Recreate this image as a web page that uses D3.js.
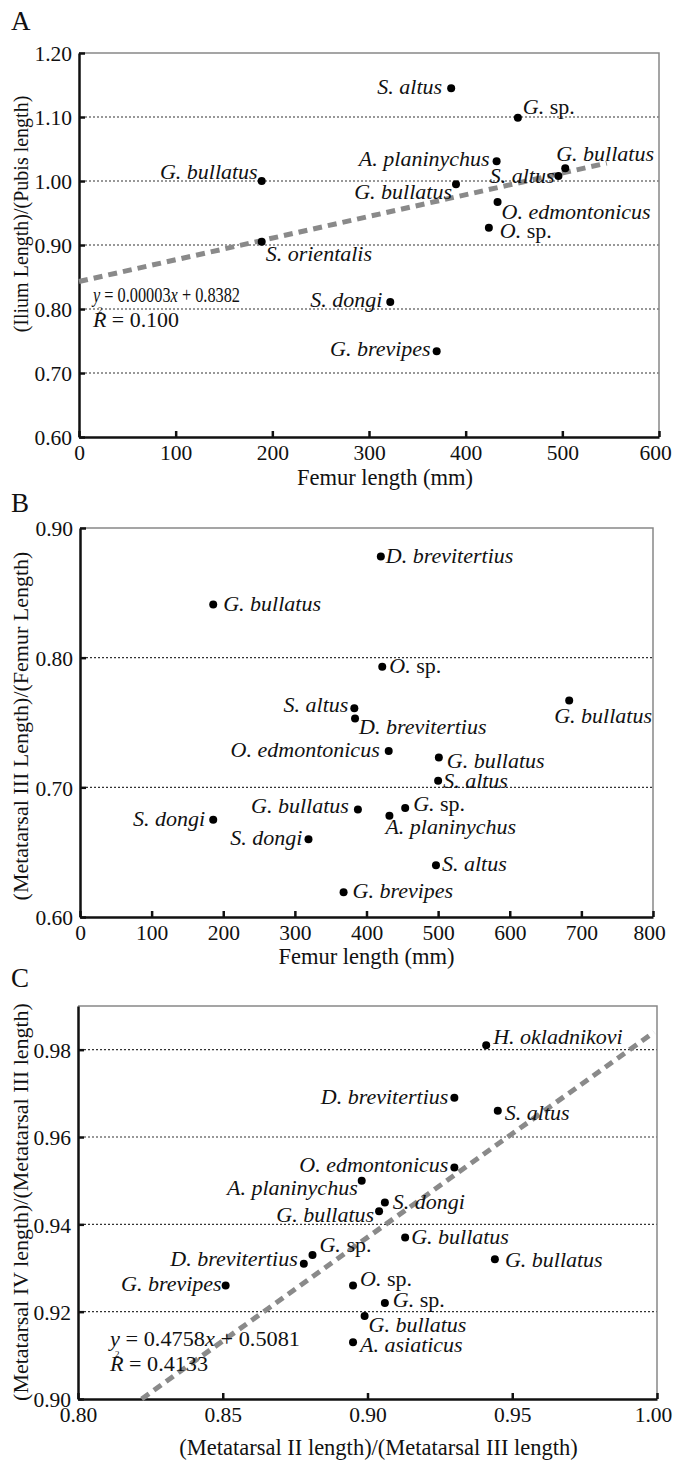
<!DOCTYPE html>
<html>
<head>
<meta charset="utf-8">
<script src="https://cdn.jsdelivr.net/npm/d3@7"></script>
<style>
  body { margin: 0; background: #fff; }
  svg { display: block; font-family: "Liberation Serif", "Times New Roman", serif; }
  .sp-label { font-size: 22px; fill: #111; }
</style>
</head>
<body>
<div id="chart"></div>
<script>
// Panel A: femur length vs (ilium length)/(pubis length)
const namesA = ["G. bullatus", "S. orientalis", "S. altus", "G. sp.", "A. planinychus", "G. bullatus",
    "S. altus", "G. bullatus", "O. edmontonicus", "O. sp.", "S. dongi", "G. brevipes"];
const femurA = [189, 189, 385, 454, 432, 390, 496, 503, 433, 424, 322, 370];
const iliumPubisA = [1.000, 0.905, 1.145, 1.099, 1.031, 0.995, 1.008, 1.020, 0.967, 0.927, 0.811, 0.734];
const trendA = [[0, 0.843], [546, 1.028]];
const yTicksA = [0.60, 0.70, 0.80, 0.90, 1.00, 1.10, 1.20];
const xTicksA = [0, 100, 200, 300, 400, 500, 600];

// Panel B: femur length vs (metatarsal III length)/(femur length)
const namesB = ["D. brevitertius", "G. bullatus", "O. sp.", "S. altus", "D. brevitertius", "G. bullatus",
    "O. edmontonicus", "G. bullatus", "S. altus", "G. bullatus", "G. sp.", "A. planinychus",
    "S. dongi", "S. dongi", "S. altus", "G. brevipes"];
const femurB = [420, 186, 422, 383, 384, 683, 431, 501, 500, 388, 454, 432, 186, 319, 497, 368];
const mt3FemurB = [0.878, 0.841, 0.793, 0.761, 0.753, 0.767, 0.728, 0.723, 0.705, 0.683, 0.684, 0.678,
    0.675, 0.660, 0.640, 0.619];
const yTicksB = [0.60, 0.70, 0.80, 0.90];
const xTicksB = [0, 100, 200, 300, 400, 500, 600, 700, 800];

// Panel C: (MT II)/(MT III) vs (MT IV)/(MT III)
const namesC = ["H. okladnikovi", "D. brevitertius", "S. altus", "O. edmontonicus", "A. planinychus", "S. dongi",
    "G. bullatus", "G. sp.", "D. brevitertius", "G. brevipes", "G. bullatus", "G. bullatus",
    "O. sp.", "G. sp.", "G. bullatus", "A. asiaticus"];
const mt2C = [0.941, 0.930, 0.945, 0.930, 0.898, 0.906, 0.904, 0.881, 0.878, 0.851, 0.913, 0.944,
    0.895, 0.906, 0.899, 0.895];
const mt4C = [0.981, 0.969, 0.966, 0.953, 0.950, 0.945, 0.943, 0.933, 0.931, 0.926, 0.937, 0.932,
    0.926, 0.922, 0.919, 0.913];
const trendC = [[0.822, 0.900], [0.999, 0.984]];
const yTicksC = [0.90, 0.92, 0.94, 0.96, 0.98];
const xTicksC = [0.80, 0.85, 0.90, 0.95, 1.00];

// label placement [anchor, dx, dy] per point (layout only)
const placeA = [["end", -4, -2], ["start", 4, 19], ["end", -9, 6], ["start", 5, -4], ["end", -7, 5],
    ["end", -4, 15], ["end", -4, 7], ["start", -9, -7], ["start", 4, 17], ["start", 11, 10],
    ["end", -8, 5], ["end", -6, 5]];
const placeB = [["start", 5, 6], ["start", 10, 6], ["start", 7, 6], ["end", -6, 4], ["start", 4, 15],
    ["start", -15, 23], ["end", -9, 6], ["start", 8, 10], ["start", 5, 7], ["end", -9, 4],
    ["start", 8, 3], ["start", -4, 18], ["end", -8, 6], ["end", -6, 6], ["start", 6, 6], ["start", 9, 6]];
const placeC = [["start", 7, -1], ["end", -6, 6], ["start", 7, 9], ["end", -6, 4], ["end", -4, 14],
    ["start", 8, 6], ["end", -5, 11], ["start", 7, -3], ["end", -6, 2], ["end", -4, 6],
    ["start", 6, 7], ["start", 10, 8], ["start", 7, 1], ["start", 8, 4], ["start", 4, 16], ["start", 7, 10]];

const svg = d3.select("#chart").append("svg")
    .attr("width", 673)
    .attr("height", 1466);

function speciesLabel(g, name, x, y, place) {
    const t = g.append("text")
        .classed("sp-label", true)
        .attr("x", x + place[1])
        .attr("y", y + place[2])
        .attr("text-anchor", place[0]);
    if (name.endsWith(" sp.")) {
        t.append("tspan").attr("font-style", "italic").text(name.slice(0, -4));
        t.append("tspan").text(" sp.");
    } else {
        t.attr("font-style", "italic").text(name);
    }
}

// regression text, squeezed to the width seen in the figure
function equation(x, y, slope, icpt, r2, eqWidth, rWidth) {
    const t = svg.append("text").attr("x", x).attr("y", y).attr("font-size", 21).attr("fill", "#111")
        .attr("textLength", eqWidth).attr("lengthAdjust", "spacingAndGlyphs");
    t.append("tspan").attr("font-style", "italic").text("y");
    t.append("tspan").text(" = " + slope);
    t.append("tspan").attr("font-style", "italic").text("x");
    t.append("tspan").text(" + " + icpt);
    const r = svg.append("text").attr("x", x).attr("y", y + 25).attr("font-size", 21).attr("fill", "#111")
        .attr("textLength", rWidth).attr("lengthAdjust", "spacingAndGlyphs");
    r.append("tspan").attr("font-style", "italic").text("R");
    r.append("tspan").text(" = " + r2);
    svg.append("text").attr("x", x + 5).attr("y", y + 11).attr("font-size", 9).attr("fill", "#111").text("2");
}

function panel(p) {
    const x = d3.scaleLinear().domain(p.xDomain).range([p.left, p.right]);
    const y = d3.scaleLinear().domain(p.yDomain).range([p.bottom, p.top]);
    const g = svg.append("g");

    // panel letter
    svg.append("text")
        .attr("x", 11)
        .attr("y", p.letterY)
        .attr("font-size", 27)
        .attr("fill", "#111")
        .text(p.letter);

    // dotted grid
    g.selectAll(".grid").data(p.grid).enter().append("line")
        .attr("x1", p.left + 6)
        .attr("x2", p.right)
        .attr("y1", d => y(d))
        .attr("y2", d => y(d))
        .attr("stroke", "#333")
        .attr("stroke-width", 1.1)
        .attr("stroke-dasharray", "2,2");

    // thin frame top/right
    g.append("path")
        .attr("d", `M${p.left},${p.top}H${p.right}V${p.bottom}`)
        .attr("fill", "none")
        .attr("stroke", "#888")
        .attr("stroke-width", 1.5);

    const xAxis = g.append("g")
        .attr("transform", `translate(0,${p.bottom})`)
        .call(d3.axisBottom(x).tickValues(p.xTicks).tickFormat(p.xFmt)
            .tickSizeInner(-6).tickSizeOuter(0).tickPadding(8));
    const yAxis = g.append("g")
        .attr("transform", `translate(${p.left},0)`)
        .call(d3.axisLeft(y).tickValues(p.yTicks).tickFormat(d3.format(".2f"))
            .tickSizeInner(-6).tickSizeOuter(0).tickPadding(7));
    [xAxis, yAxis].forEach(a => {
        a.attr("font-family", "Liberation Serif, serif").attr("font-size", 21.5);
        a.select(".domain").attr("stroke", "#111").attr("stroke-width", 2.5);
        a.selectAll(".tick line").attr("stroke", "#111").attr("stroke-width", 2.5);
        a.selectAll(".tick text").attr("fill", "#111");
    });
    yAxis.selectAll(".tick text").attr("dy", "0.36em");
    // last x label sits against the page edge
    xAxis.selectAll(".tick text").filter((d, i, n) => i === n.length - 1).attr("x", -4);

    // trend line
    if (p.trend) {
        g.append("line")
            .attr("x1", x(p.trend[0][0])).attr("y1", y(p.trend[0][1]))
            .attr("x2", x(p.trend[1][0])).attr("y2", y(p.trend[1][1]))
            .attr("stroke", "#8a8a8a")
            .attr("stroke-width", 5)
            .attr("stroke-dasharray", "9,6");
    }

    // points + labels
    p.names.forEach((name, i) => {
        const cx = x(p.xs[i]);
        const cy = y(p.ys[i]);
        g.append("circle").attr("cx", cx).attr("cy", cy).attr("r", 4).attr("fill", "#000");
        speciesLabel(g, name, cx, cy, p.place[i]);
    });

    // axis titles
    svg.append("text")
        .attr("x", (p.left + p.right) / 2 + p.xTitleShift)
        .attr("y", p.xTitleY)
        .attr("text-anchor", "middle")
        .attr("font-size", 22.5)
        .attr("fill", "#111")
        .text(p.xTitle);
    svg.append("text")
        .attr("transform", `translate(28,${p.yTitleY}) rotate(-90)`)
        .attr("text-anchor", "middle")
        .attr("font-size", p.yTitleSize)
        .attr("fill", "#111")
        .text(p.yTitle);
}

panel({
    letter: "A", letterY: 30,
    xDomain: [0, 600], yDomain: [0.6, 1.2], left: 79, right: 659, top: 53, bottom: 437,
    xTicks: xTicksA, yTicks: yTicksA, xFmt: d3.format("d"), grid: [0.7, 0.8, 0.9, 1.0, 1.1],
    names: namesA, xs: femurA, ys: iliumPubisA, place: placeA, trend: trendA,
    xTitle: "Femur length (mm)", xTitleY: 485, xTitleShift: 16,
    yTitle: "(Ilium Length)/(Pubis length)", yTitleY: 214, yTitleSize: 20
});
equation(93, 302, "0.00003", "0.8382", "0.100", 147, 86);

panel({
    letter: "B", letterY: 512,
    xDomain: [0, 800], yDomain: [0.6, 0.9], left: 80, right: 653, top: 528, bottom: 917,
    xTicks: xTicksB, yTicks: yTicksB, xFmt: d3.format("d"), grid: [0.7, 0.8],
    names: namesB, xs: femurB, ys: mt3FemurB, place: placeB, trend: null,
    xTitle: "Femur length (mm)", xTitleY: 964, xTitleShift: 0,
    yTitle: "(Metatarsal III Length)/(Femur Length)", yTitleY: 726, yTitleSize: 22
});

panel({
    letter: "C", letterY: 987,
    xDomain: [0.8, 1.0], yDomain: [0.9, 0.99], left: 78, right: 657, top: 1006, bottom: 1399,
    xTicks: xTicksC, yTicks: yTicksC, xFmt: d3.format(".2f"), grid: [0.92, 0.94, 0.96, 0.98],
    names: namesC, xs: mt2C, ys: mt4C, place: placeC, trend: trendC,
    xTitle: "(Metatarsal II length)/(Metatarsal III length)", xTitleY: 1455, xTitleShift: 11,
    yTitle: "(Metatarsal IV length)/(Metatarsal III length)", yTitleY: 1202, yTitleSize: 22
});
equation(110, 1346, "0.4758", "0.5081", "0.4133", 190, 98);
</script>
</body>
</html>
